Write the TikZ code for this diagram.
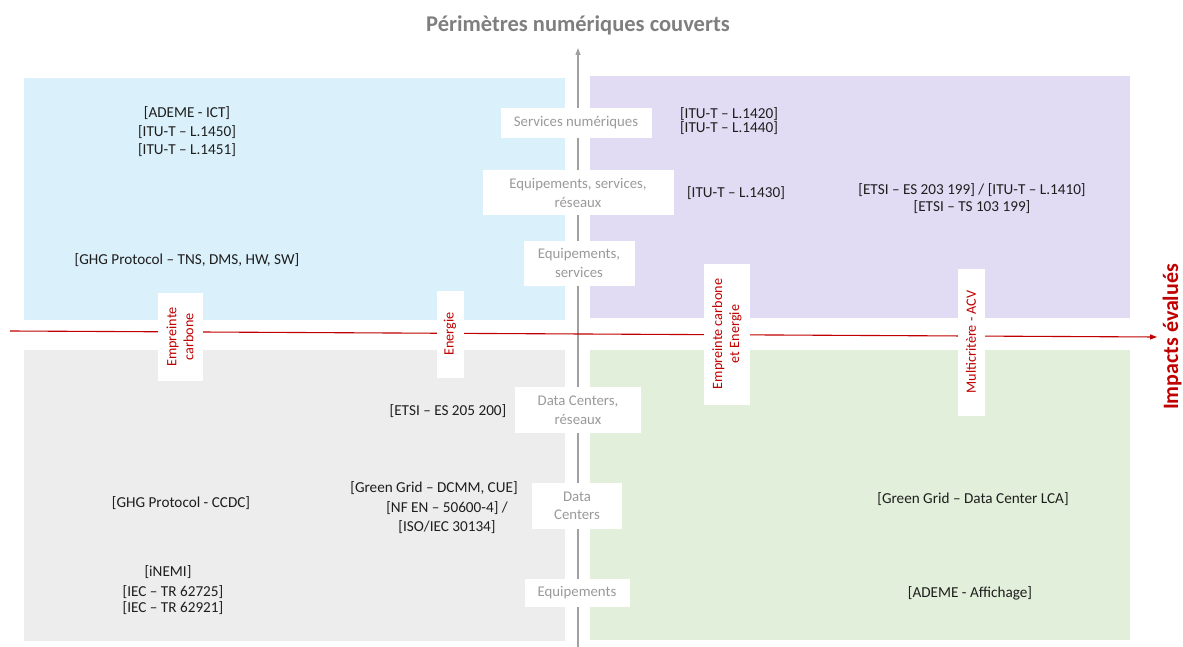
\documentclass[tikz,border=0pt]{standalone}
\usepackage{fontspec}
\setmainfont{Carlito}
\usetikzlibrary{arrows.meta}
\definecolor{qblue}{HTML}{DAF0FA}
\definecolor{qpurple}{HTML}{E1DCF4}
\definecolor{qgray}{HTML}{EDEDED}
\definecolor{qgreen}{HTML}{E2EFDA}
\definecolor{axred}{HTML}{C00000}
\definecolor{axgray}{HTML}{A0A0A0}
\definecolor{labgray}{HTML}{9A9A9A}
\definecolor{titlegray}{HTML}{7F7F7F}
\definecolor{txt}{HTML}{1E1E1E}
\tikzset{
  std/.style={inner sep=0pt, align=center, text=txt, font=\fontsize{15.2}{18.5}\selectfont},
  vlab/.style={fill=white, inner sep=0pt, align=center, text=labgray, font=\fontsize{14.8}{18.5}\selectfont},
  hlab/.style={fill=white, inner sep=0pt, align=center, text=axred, rotate=90, font=\fontsize{14.2}{17}\selectfont},
  vaxis/.style={draw=axgray, line width=1.3pt, -{Triangle[length=7pt,width=5pt]}},
  haxis/.style={draw=axred, line width=1.1pt, -{Triangle[length=7pt,width=5pt]}},
}
\begin{document}
\begin{tikzpicture}[x=1pt,y=-1pt]
\useasboundingbox (0,0) rectangle (1183,647);
\fill[white] (0,0) rectangle (1183,647);
% quadrants
\fill[qblue]   (24,78) rectangle (565,320);
\fill[qpurple] (590,76) rectangle (1130,318);
\fill[qgray]   (24,350) rectangle (565,641);
\fill[qgreen]  (590,350) rectangle (1130,640);
% axes
\coordinate (vstart) at (578,647);
\coordinate (vend) at (578,48);
\coordinate (hstart) at (10,331);
\coordinate (hend) at (1157,337);
\draw[vaxis] (vstart) -- (vend);
\draw[haxis] (hstart) -- (hend);
% titles
\node[inner sep=0pt, font=\bfseries\fontsize{22.5}{26}\selectfont, text=titlegray] (ytitle) at (578,25) {Périmètres numériques couverts};
\node[inner sep=0pt, font=\bfseries\fontsize{22}{26}\selectfont, text=axred, rotate=90] (xtitle) at (1172,337) {Impacts évalués};
% vertical axis labels
\node[vlab, minimum width=151pt, minimum height=30pt] (v1) at (576,123) {Services numériques};
\node[vlab, minimum width=191pt, minimum height=45pt] (v2) at (578,193) {Equipements, services,\\ réseaux};
\node[vlab, minimum width=111pt, minimum height=45pt] (v3) at (579,263) {Equipements,\\ services};
\node[vlab, minimum width=126pt, minimum height=46pt] (v4) at (578,410) {Data Centers,\\ réseaux};
\node[vlab, minimum width=90pt, minimum height=46pt] (v5) at (577,506) {Data\\ Centers};
\node[vlab, minimum width=105pt, minimum height=28pt] (v6) at (577,593) {Equipements};
% horizontal axis labels
\node[hlab, minimum width=88pt, minimum height=45pt] (h1) at (180,337) {Empreinte\\ carbone};
\node[hlab, minimum width=87pt, minimum height=27pt] (h2) at (450,334) {Energie};
\node[hlab, minimum width=141pt, minimum height=46pt] (h3) at (727,334) {Empreinte carbone\\ et Energie};
\node[hlab, minimum width=147pt, minimum height=27pt] (h4) at (971,342) {Multicritère - ACV};
% top-left
\node[std] (tl1) at (187,132) {{[ADEME - ICT]}\\ {[ITU-T – L.1450]}\\ {[ITU-T – L.1451]}};
\node[std] (tl2) at (187,260) {[GHG Protocol – TNS, DMS, HW, SW]};
% top-right
\node[std, font=\fontsize{15.2}{14}\selectfont] (tr1) at (729,121) {{[ITU-T – L.1420]}\\ {[ITU-T – L.1440]}};
\node[std] (tr2) at (736,193) {[ITU-T – L.1430]};
\node[std, font=\fontsize{15.2}{17}\selectfont] (tr3) at (972,199) {{[ETSI – ES 203 199] / [ITU-T – L.1410]}\\ {[ETSI – TS 103 199]}};
% bottom-left
\node[std] (bl1) at (448,411) {[ETSI – ES 205 200]};
\node[std] (bl2) at (181,503) {[GHG Protocol - CCDC]};
\node[std] (bl3) at (434,488) {[Green Grid – DCMM, CUE]};
\node[std, font=\fontsize{15.2}{19}\selectfont] (bl4) at (447,517.5) {{[NF EN – 50600-4] /}\\ {[ISO/IEC 30134]}};
\node[std] (bl5) at (168,572) {[iNEMI]};
\node[std, font=\fontsize{15.2}{16}\selectfont] (bl6) at (173,600) {{[IEC – TR 62725]}\\ {[IEC – TR 62921]}};
% bottom-right
\node[std] (br1) at (973,499) {[Green Grid – Data Center LCA]};
\node[std] (br2) at (970,593) {[ADEME - Affichage]};
\end{tikzpicture}
\end{document}
